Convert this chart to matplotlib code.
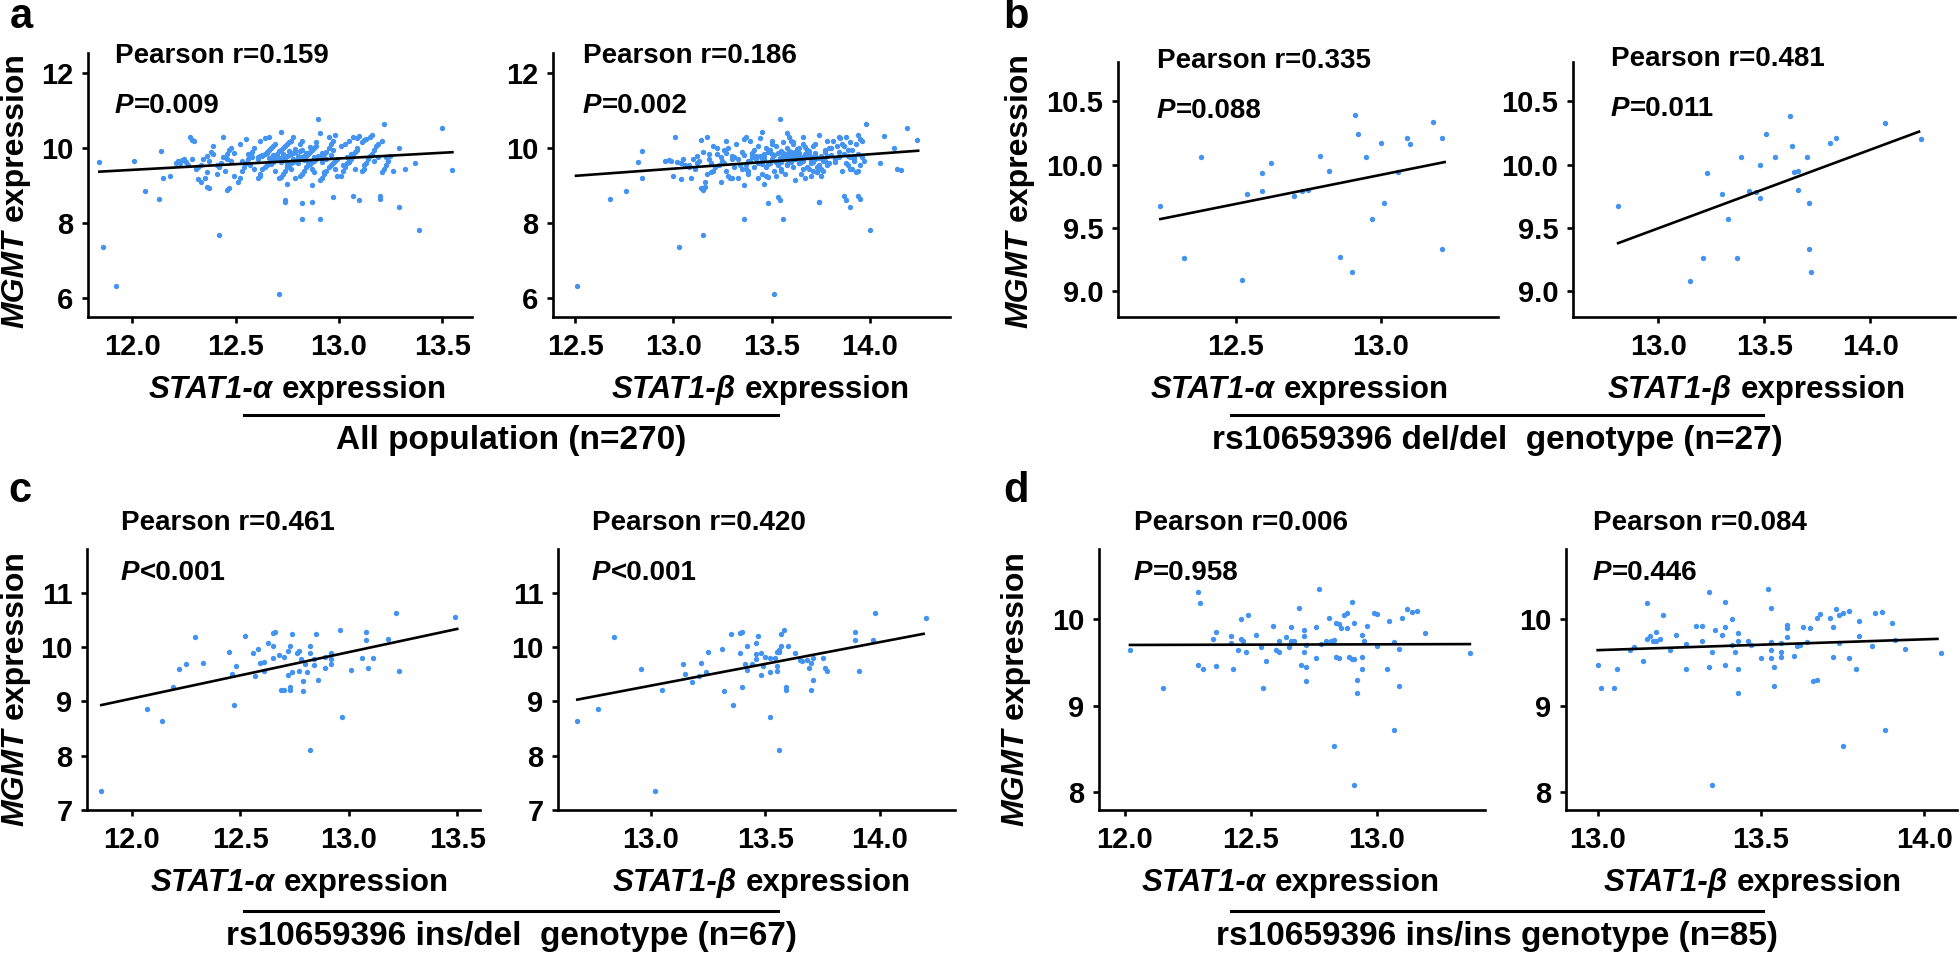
"""
MGMT vs STAT1-alpha / STAT1-beta expression, split by rs10659396 genotype.
Eight scatter panels with fitted lines, laid out in figure pixels.
"""

import matplotlib.pyplot as plt
from matplotlib.lines import Line2D

W, H, DPI = 1960, 956, 100
plt.rcParams['font.family'] = ['Liberation Sans', 'DejaVu Sans']
plt.rcParams['font.weight'] = 'bold'

DOT = '#4393f0'

# %%
# a: all population (n=270); the same MGMT values are used in both panels

a_alpha = [
    11.84, 11.86, 11.92, 12.01, 12.06, 12.13, 12.14, 12.15, 12.18, 12.42,
    12.71, 13.50, 13.55, 13.39, 13.29, 13.37, 13.32, 13.29, 13.22, 13.20,
    13.20, 13.10, 13.07, 12.97, 12.91, 12.87, 12.82, 12.82, 12.74, 12.74,
    12.75, 12.90, 12.72, 12.87, 12.79, 12.47, 12.46, 12.36, 12.37, 12.32,
    12.28, 12.29, 12.30, 12.24, 12.21, 13.10, 13.12,
    12.22, 12.25, 12.27, 12.26, 12.29, 12.23,
    12.31, 12.33, 12.34, 12.36, 12.38, 12.35, 12.33, 12.39, 12.37, 12.32, 12.39, 12.36,
    12.41, 12.42, 12.43, 12.44, 12.46, 12.47, 12.48, 12.45, 12.49, 12.44, 12.48, 12.41,
    12.46, 12.49,
    12.51, 12.52, 12.53, 12.54, 12.55, 12.56, 12.57, 12.58, 12.59, 12.52, 12.55, 12.57,
    12.53, 12.58, 12.59, 12.56,
    12.61, 12.62, 12.63, 12.64, 12.65, 12.66, 12.67, 12.68, 12.69, 12.61, 12.62, 12.63,
    12.64, 12.65, 12.66, 12.67, 12.68, 12.69, 12.62, 12.64, 12.66, 12.68, 12.61, 12.63,
    12.65, 12.67, 12.69, 12.62,
    12.71, 12.72, 12.73, 12.74, 12.75, 12.76, 12.77, 12.78, 12.79, 12.71, 12.72, 12.73,
    12.74, 12.75, 12.76, 12.77, 12.78, 12.79, 12.71, 12.72, 12.73, 12.74, 12.75, 12.76,
    12.77, 12.78, 12.79, 12.71, 12.73, 12.75, 12.77, 12.79,
    12.81, 12.82, 12.83, 12.84, 12.85, 12.86, 12.87, 12.88, 12.89, 12.81, 12.82, 12.83,
    12.84, 12.85, 12.86, 12.87, 12.88, 12.89, 12.81, 12.82, 12.83, 12.84, 12.85, 12.86,
    12.87, 12.88, 12.89, 12.81, 12.83, 12.85,
    12.91, 12.92, 12.93, 12.94, 12.95, 12.96, 12.97, 12.98, 12.99, 12.91, 12.92, 12.93,
    12.94, 12.95, 12.96, 12.97, 12.98, 12.91, 12.92, 12.94, 12.96, 12.98, 12.93, 12.95,
    12.97, 12.99,
    13.01, 13.02, 13.03, 13.04, 13.05, 13.06, 13.07, 13.08, 13.09, 13.01, 13.03, 13.05,
    13.07, 13.09, 13.02, 13.04, 13.06, 13.08, 13.09, 13.05,
    13.11, 13.12, 13.13, 13.14, 13.15, 13.16, 13.17, 13.18, 13.19, 13.11, 13.13, 13.15,
    13.17, 13.19, 13.12, 13.16,
    13.21, 13.22, 13.23, 13.24, 13.25, 13.21, 13.23, 13.26,
    12.70, 12.80, 12.78, 12.76, 12.84, 12.88, 12.72, 12.86, 12.68, 12.92, 12.74, 12.82,
    12.90, 12.66, 12.80,
]
a_beta = [
    12.82, 13.03, 12.51, 12.96, 12.76, 12.68, 12.84, 12.84, 13.00, 13.15,
    13.51, 14.19, 14.16, 14.00, 13.90, 14.05, 14.14, 14.12, 13.98, 13.94,
    13.95, 13.88, 13.87, 13.53, 13.56, 13.74, 13.36, 13.48, 13.74, 13.54,
    13.46, 13.54, 13.45, 13.36, 13.30, 13.14, 13.15, 13.16, 13.15, 13.04,
    13.01, 13.14, 13.27, 12.98, 13.04, 14.07, 14.24,
    12.99, 13.05, 13.08, 13.02, 13.10, 13.12,
    13.11, 13.06, 13.18, 13.12, 13.15, 13.09, 13.16, 13.20, 13.13, 13.08, 13.22, 13.19,
    13.17, 13.21, 13.19, 13.24, 13.18, 13.26, 13.22, 13.20, 13.28, 13.17, 13.25, 13.23,
    13.30, 13.27,
    13.24, 13.29, 13.27, 13.31, 13.26, 13.33, 13.30, 13.35, 13.28, 13.32, 13.36, 13.34,
    13.38, 13.31, 13.37, 13.40,
    13.33, 13.38, 13.35, 13.41, 13.37, 13.43, 13.39, 13.45, 13.42, 13.40, 13.44, 13.36,
    13.46, 13.48, 13.41, 13.47, 13.43, 13.50, 13.39, 13.44, 13.37, 13.49, 13.46, 13.42,
    13.40, 13.45, 13.38, 13.47,
    13.43, 13.48, 13.45, 13.51, 13.47, 13.53, 13.49, 13.55, 13.52, 13.50, 13.54, 13.46,
    13.56, 13.58, 13.51, 13.57, 13.53, 13.60, 13.55, 13.49, 13.58, 13.52, 13.61, 13.56,
    13.50, 13.59, 13.54, 13.57, 13.62, 13.48, 13.55, 13.63,
    13.52, 13.57, 13.55, 13.61, 13.58, 13.64, 13.60, 13.66, 13.62, 13.59, 13.65, 13.57,
    13.67, 13.69, 13.62, 13.68, 13.64, 13.71, 13.66, 13.60, 13.70, 13.63, 13.72, 13.58,
    13.66, 13.73, 13.61, 13.69, 13.74, 13.65,
    13.62, 13.67, 13.65, 13.71, 13.68, 13.74, 13.70, 13.76, 13.72, 13.69, 13.75, 13.67,
    13.77, 13.79, 13.72, 13.78, 13.74, 13.58, 13.71, 13.76, 13.80, 13.69, 13.73, 13.66,
    13.77, 13.75,
    13.70, 13.76, 13.73, 13.79, 13.77, 13.82, 13.78, 13.84, 13.80, 13.83, 13.86, 13.81,
    13.88, 13.85, 13.78, 13.84, 13.87, 13.75, 13.89, 13.82,
    13.86, 13.90, 13.88, 13.92, 13.89, 13.94, 13.91, 13.87, 13.93, 13.90, 13.95, 13.84,
    13.92, 13.96, 13.89, 13.94,
    13.93, 13.91, 13.95, 13.97, 13.92, 13.96, 13.90, 13.94,
    13.50, 13.60, 13.62, 13.59, 13.56, 13.70, 13.52, 13.67, 13.58, 13.64, 13.60, 13.68,
    13.72, 13.54, 13.64,
]
a_mgmt = [
    9.62, 7.35, 6.30, 9.65, 8.85, 8.64, 9.92, 9.20, 9.26, 7.67,
    6.09, 10.55, 9.41, 7.81, 8.42, 9.61, 9.43, 10.01, 10.64, 8.73,
    8.63, 8.62, 8.73, 8.70, 8.10, 8.55, 8.10, 8.54, 8.57, 8.62,
    9.03, 10.77, 10.44, 9.01, 9.21, 8.93, 8.88, 8.97, 8.93, 9.17,
    10.31, 10.22, 10.18, 9.68, 9.59, 10.33, 10.22,
    9.66, 9.70, 9.55, 9.62, 9.72, 9.60,
    9.45, 9.55, 9.70, 9.80, 9.90, 9.20, 9.10, 10.05, 9.65, 9.50, 9.85, 9.35,
    9.30, 9.50, 9.60, 9.75, 9.85, 9.95, 10.00, 9.40, 9.25, 10.30, 9.65, 9.55,
    9.70, 9.88,
    9.10, 9.20, 9.40, 9.50, 9.60, 9.70, 9.80, 9.90, 10.00, 10.10, 10.25, 9.55,
    9.65, 9.75, 9.45, 9.85,
    9.20, 9.30, 9.45, 9.50, 9.55, 9.60, 9.65, 9.70, 9.72, 9.75, 9.80, 9.82,
    9.85, 9.90, 9.95, 10.00, 10.05, 10.10, 10.20, 10.28, 10.30, 9.62, 9.70, 9.78,
    9.88, 9.58, 9.40, 9.25,
    9.20, 9.22, 9.30, 9.40, 9.50, 9.55, 9.60, 9.62, 9.65, 9.70, 9.72, 9.75,
    9.78, 9.80, 9.82, 9.85, 9.88, 9.90, 9.92, 9.95, 10.00, 10.05, 10.10, 10.15,
    10.20, 10.30, 9.68, 9.74, 9.84, 9.58, 9.45, 9.98,
    9.25, 9.30, 9.40, 9.50, 9.55, 9.60, 9.62, 9.65, 9.70, 9.72, 9.75, 9.80,
    9.82, 9.85, 9.90, 9.95, 10.00, 10.05, 10.10, 10.20, 9.68, 9.78, 9.88, 9.58,
    9.45, 9.35, 10.15, 9.92, 9.74, 9.64,
    9.15, 9.20, 9.30, 9.40, 9.50, 9.55, 9.60, 9.65, 9.70, 9.75, 9.80, 9.85,
    9.90, 10.00, 10.10, 10.20, 10.35, 10.40, 9.62, 9.72, 9.82, 9.45, 9.35, 10.30,
    9.95, 9.25,
    9.25, 9.40, 9.50, 9.60, 9.65, 9.70, 9.80, 9.90, 10.00, 10.05, 10.10, 10.20,
    10.30, 10.28, 9.55, 9.75, 9.85, 9.45, 9.95, 9.62,
    9.40, 9.45, 9.60, 9.70, 9.80, 9.85, 9.95, 10.05, 10.10, 10.15, 10.25, 10.30,
    9.65, 9.75, 9.55, 10.35,
    9.35, 9.45, 9.55, 9.65, 9.80, 10.20, 9.75, 9.40,
    9.85, 9.80, 9.70, 9.92, 9.86, 9.76, 9.64, 10.02, 9.82, 9.88, 9.68, 9.96,
    9.78, 9.74, 9.60,
]

# %%
# b: rs10659396 del/del (n=27)

b_alpha_x = [12.24, 12.32, 12.38, 12.52, 12.54, 12.59, 12.59, 12.62, 12.70, 12.73,
             12.75, 12.79, 12.82, 12.86, 12.90, 12.91, 12.92, 12.95, 12.97, 13.00,
             13.01, 13.06, 13.09, 13.10, 13.18, 13.21, 13.21]
b_alpha_y = [9.67, 9.26, 10.06, 9.09, 9.77, 9.93, 9.79, 10.01, 9.75, 9.79,
             9.80, 10.07, 9.95, 9.27, 9.15, 10.39, 10.24, 10.06, 9.57, 10.17,
             9.70, 9.94, 10.21, 10.16, 10.34, 10.21, 9.33]
b_beta_x = [12.81, 13.15, 13.21, 13.23, 13.30, 13.33, 13.37, 13.39, 13.43, 13.48,
            13.48, 13.51, 13.55, 13.62, 13.63, 13.64, 13.66, 13.66, 13.70, 13.71,
            13.71, 13.72, 13.81, 13.84, 14.07, 14.24, 13.46]
b_beta_y = [9.67, 9.08, 9.26, 9.93, 9.77, 9.57, 9.26, 10.06, 9.79, 10.00,
            9.74, 10.24, 10.06, 10.38, 10.15, 9.94, 9.95, 9.80, 10.06, 9.33,
            9.70, 9.15, 10.17, 10.21, 10.33, 10.20, 9.78]

# %%
# c: rs10659396 ins/del (n=67)

c_alpha_x = [11.86, 12.07, 12.14, 12.19, 12.22, 12.25, 12.29, 12.33, 12.45, 12.46,
             12.47, 12.48, 12.52, 12.56, 12.57, 12.58, 12.59, 12.61, 12.61, 12.63,
             12.65, 12.65, 12.65, 12.66, 12.68, 12.69, 12.70, 12.70, 12.72, 12.72,
             12.73, 12.73, 12.73, 12.74, 12.74, 12.76, 12.77, 12.77, 12.78, 12.79,
             12.79, 12.80, 12.81, 12.82, 12.82, 12.82, 12.84, 12.84, 12.85, 12.86,
             12.89, 12.89, 12.92, 12.92, 12.92, 12.96, 12.97, 13.01, 13.06, 13.08,
             13.08, 13.09, 13.11, 13.18, 13.22, 13.23, 13.49]
c_alpha_y = [7.35, 8.85, 8.64, 9.27, 9.60, 9.69, 10.18, 9.71, 9.90, 9.50,
             8.93, 9.65, 10.20, 9.88, 9.47, 9.97, 9.70, 9.72, 9.55, 10.08,
             10.26, 9.80, 10.02, 10.28, 9.85, 9.20, 9.81, 9.20, 9.49, 9.93,
             9.21, 9.26, 10.01, 10.24, 9.53, 9.89, 9.93, 9.56, 9.77, 9.38,
             9.18, 9.69, 9.53, 9.88, 10.02, 8.10, 9.66, 9.78, 10.23, 9.40,
             9.61, 9.82, 9.68, 9.88, 9.77, 10.31, 8.71, 9.58, 9.80, 10.28,
             10.12, 9.62, 9.80, 10.14, 10.62, 9.55, 10.55]
c_beta_x = [12.68, 12.77, 12.84, 12.96, 13.02, 13.05, 13.14, 13.15, 13.18, 13.21,
            13.22, 13.24, 13.25, 13.31, 13.32, 13.35, 13.36, 13.39, 13.39, 13.40,
            13.40, 13.41, 13.42, 13.42, 13.44, 13.46, 13.46, 13.46, 13.47, 13.48,
            13.48, 13.49, 13.52, 13.52, 13.52, 13.54, 13.55, 13.55, 13.55, 13.56,
            13.56, 13.57, 13.57, 13.58, 13.59, 13.59, 13.60, 13.63, 13.66, 13.68,
            13.69, 13.70, 13.70, 13.71, 13.71, 13.75, 13.76, 13.77, 13.89, 13.89,
            13.91, 13.97, 13.98, 14.20, 13.65, 13.50, 13.56]
c_beta_y = [8.64, 8.85, 10.18, 9.60, 7.35, 9.20, 9.69, 9.50, 9.36, 9.47,
            9.71, 9.53, 9.90, 9.97, 9.18, 10.24, 8.93, 9.88, 10.26, 10.28,
            9.26, 9.68, 10.01, 9.58, 9.69, 9.77, 10.08, 9.87, 10.20, 9.88,
            9.48, 9.65, 9.80, 8.71, 9.53, 9.80, 9.55, 9.64, 9.90, 9.95,
            8.10, 10.02, 10.23, 10.31, 9.20, 9.26, 10.01, 9.88, 9.74, 9.75,
            9.62, 9.20, 9.71, 9.39, 9.80, 9.80, 9.61, 9.55, 10.28, 10.13,
            9.55, 10.12, 10.62, 10.54, 9.75, 9.82, 9.91]

# %%
# d: rs10659396 ins/ins (n=85)

d_alpha_x = [12.02, 12.15, 12.29, 12.29, 12.30, 12.31, 12.35, 12.36, 12.36, 12.42,
             12.42, 12.43, 12.45, 12.46, 12.46, 12.47, 12.48, 12.49, 12.52, 12.54,
             12.55, 12.56, 12.59, 12.60, 12.61, 12.61, 12.64, 12.65, 12.66, 12.66,
             12.67, 12.69, 12.70, 12.71, 12.71, 12.71, 12.72, 12.72, 12.72, 12.76,
             12.76, 12.77, 12.78, 12.81, 12.82, 12.83, 12.83, 12.84, 12.85, 12.85,
             12.86, 12.87, 12.88, 12.88, 12.89, 12.90, 12.90, 12.91, 12.91, 12.91,
             12.92, 12.92, 12.94, 12.94, 12.95, 12.94, 12.96, 12.99, 13.00, 13.00,
             13.04, 13.05, 13.07, 13.07, 13.09, 13.09, 13.10, 13.12, 13.14, 13.16,
             13.19, 13.37, 12.80, 12.84, 12.66]
d_alpha_y = [9.64, 9.20, 10.31, 9.47, 10.18, 9.42, 9.77, 9.46, 9.85, 9.72,
             9.80, 9.42, 9.64, 10.00, 9.77, 9.74, 9.62, 10.04, 9.82, 9.68,
             9.20, 9.51, 9.92, 9.64, 9.74, 9.62, 9.79, 9.68, 9.91, 9.75,
             9.74, 10.13, 9.47, 9.80, 9.87, 9.62, 9.45, 9.28, 9.70, 9.55,
             9.91, 10.35, 9.71, 10.01, 9.74, 9.76, 8.54, 9.56, 9.94, 9.55,
             9.90, 10.04, 9.89, 10.07, 9.56, 9.54, 10.19, 9.95, 9.54, 8.09,
             9.29, 9.14, 9.42, 9.82, 9.74, 9.56, 9.92, 10.07, 9.69, 10.06,
             9.42, 9.98, 9.73, 8.72, 9.23, 9.65, 10.01, 10.12, 10.08, 10.09,
             9.84, 9.61, 9.74, 9.95, 9.72]
d_beta_x = [13.00, 13.01, 13.05, 13.06, 13.10, 13.11, 13.14, 13.15, 13.15, 13.16,
            13.17, 13.18, 13.18, 13.19, 13.20, 13.22, 13.24, 13.27, 13.27, 13.30,
            13.32, 13.32, 13.34, 13.34, 13.35, 13.35, 13.36, 13.38, 13.39, 13.39,
            13.39, 13.41, 13.41, 13.42, 13.43, 13.43, 13.43, 13.43, 13.46, 13.47,
            13.50, 13.52, 13.53, 13.53, 13.53, 13.53, 13.54, 13.54, 13.56, 13.56,
            13.58, 13.58, 13.58, 13.60, 13.61, 13.63, 13.64, 13.65, 13.66, 13.67,
            13.67, 13.68, 13.71, 13.72, 13.72, 13.73, 13.74, 13.74, 13.75, 13.75,
            13.77, 13.77, 13.79, 13.80, 13.80, 13.84, 13.85, 13.87, 13.88, 13.90,
            13.91, 13.94, 14.05, 13.56, 13.62]
d_beta_y = [9.47, 9.20, 9.20, 9.42, 9.64, 9.68, 9.51, 10.18, 9.77, 9.80,
            9.74, 9.85, 9.74, 9.77, 10.05, 9.64, 9.82, 9.71, 9.42, 9.92,
            9.75, 9.92, 10.31, 9.44, 9.62, 8.09, 9.87, 9.82, 9.91, 10.19,
            9.47, 10.00, 9.70, 9.62, 9.14, 9.42, 9.84, 9.74, 9.74, 9.70,
            9.55, 10.35, 9.64, 9.55, 9.73, 10.13, 9.45, 9.23, 9.62, 9.56,
            9.89, 9.93, 9.79, 9.57, 9.69, 9.91, 9.73, 9.89, 9.28, 9.29,
            10.01, 10.06, 10.01, 9.56, 9.91, 10.12, 10.04, 9.72, 10.07, 8.54,
            10.09, 9.55, 9.42, 9.80, 9.98, 9.69, 10.07, 10.08, 8.72, 9.95,
            9.76, 9.65, 9.61, 9.72, 9.70]

# fitted lines: (x0, x1), (y0, y1)
fits = {
    'a_alpha': ((11.84, 13.55), (9.37, 9.89)),
    'a_beta': ((12.505, 14.245), (9.26, 9.93)),
    'b_alpha': ((12.24, 13.22), (9.57, 10.02)),
    'b_beta': ((12.81, 14.23), (9.38, 10.26)),
    'c_alpha': ((11.86, 13.50), (8.93, 10.33)),
    'c_beta': ((12.68, 14.19), (9.03, 10.24)),
    'd_alpha': ((12.02, 13.37), (9.70, 9.71)),
    'd_beta': ((13.00, 14.04), (9.64, 9.77)),
}

pearson_r = ['0.159', '0.186', '0.335', '0.481', '0.461', '0.420', '0.006', '0.084']
p_values = ['=0.009', '=0.002', '=0.088', '=0.011', '<0.001', '<0.001', '=0.958', '=0.446']
group_titles = ['All population (n=270)', 'rs10659396 del/del  genotype (n=27)',
                'rs10659396 ins/del  genotype (n=67)', 'rs10659396 ins/ins genotype (n=85)']

# %%
# Layout (figure pixels)

fig = plt.figure(figsize=(W / DPI, H / DPI), dpi=DPI)
renderer = fig.canvas.get_renderer()


def fx(x):
    return x / W


def fy(y):
    return 1 - y / H


def mixed_text(x, y, parts, size, align='center', vertical=False, gap=0.0):
    """Lay out (text, italic) runs side by side, measured with the renderer."""
    items = []
    for s, italic in parts:
        t = fig.text(0, 0, s, fontsize=size, fontweight='bold',
                     fontstyle='italic' if italic else 'normal',
                     ha='left', va='center', rotation_mode='anchor')
        items.append((t, t.get_window_extent(renderer).width))
    gap_px = gap * size * DPI / 72
    total = sum(w for _, w in items) + gap_px * (len(items) - 1)
    pos = -total / 2 if align == 'center' else 0
    for t, w in items:
        if vertical:
            t.set_rotation(90)
            t.set_position((fx(x), (H - y + pos) / H))
        else:
            t.set_position((fx(x + pos), fy(y)))
        pos += w + gap_px


panels = [
    # box = (left, right, top, bottom) in px
    dict(box=(88, 472, 53, 317), x=a_alpha, y=a_mgmt, fit='a_alpha',
         xlim=(11.785, 13.645), ylim=(5.484, 12.543),
         xt=[12.0, 12.5, 13.0, 13.5], yt=[6, 8, 10, 12], yf='{:.0f}', txt=(115, 56)),
    dict(box=(553, 950, 53, 317), x=a_beta, y=a_mgmt, fit='a_beta',
         xlim=(12.388, 14.407), ylim=(5.484, 12.543),
         xt=[12.5, 13.0, 13.5, 14.0], yt=[6, 8, 10, 12], yf='{:.0f}', txt=(583, 56)),
    dict(box=(1118, 1498, 62, 317), x=b_alpha_x, y=b_alpha_y, fit='b_alpha',
         xlim=(12.094, 13.404), ylim=(8.797, 10.81),
         xt=[12.5, 13.0], yt=[9.0, 9.5, 10.0, 10.5], yf='{:.1f}', txt=(1157, 61)),
    dict(box=(1573, 1955, 62, 317), x=b_beta_x, y=b_beta_y, fit='b_beta',
         xlim=(12.597, 14.40), ylim=(8.797, 10.81),
         xt=[13.0, 13.5, 14.0], yt=[9.0, 9.5, 10.0, 10.5], yf='{:.1f}', txt=(1611, 59)),
    dict(box=(87, 480, 549, 810), x=c_alpha_x, y=c_alpha_y, fit='c_alpha',
         xlim=(11.794, 13.605), ylim=(7.0, 11.80),
         xt=[12.0, 12.5, 13.0, 13.5], yt=[7, 8, 9, 10, 11], yf='{:.0f}', txt=(121, 523)),
    dict(box=(558, 955, 549, 810), x=c_beta_x, y=c_beta_y, fit='c_beta',
         xlim=(12.596, 14.327), ylim=(7.0, 11.80),
         xt=[13.0, 13.5, 14.0], yt=[7, 8, 9, 10, 11], yf='{:.0f}', txt=(592, 523)),
    dict(box=(1099, 1485, 549, 810), x=d_alpha_x, y=d_alpha_y, fit='d_alpha',
         xlim=(11.897, 13.43), ylim=(7.796, 10.807),
         xt=[12.0, 12.5, 13.0], yt=[8, 9, 10], yf='{:.0f}', txt=(1134, 523)),
    dict(box=(1566, 1957, 549, 810), x=d_beta_x, y=d_beta_y, fit='d_beta',
         xlim=(12.903, 14.10), ylim=(7.796, 10.807),
         xt=[13.0, 13.5, 14.0], yt=[8, 9, 10], yf='{:.0f}', txt=(1593, 523)),
]

for i, p in enumerate(panels):
    left, right, top, bottom = p['box']
    ax = fig.add_axes([fx(left), fy(bottom), (right - left) / W, (bottom - top) / H])
    ax.scatter(p['x'], p['y'], s=15, color=DOT, linewidths=0, zorder=2, clip_on=False)
    fx_, fy_ = fits[p['fit']]
    ax.plot(fx_, fy_, color='black', lw=1.9, zorder=3)
    ax.set_xlim(*p['xlim'])
    ax.set_ylim(*p['ylim'])
    ax.set_xticks(p['xt'])
    ax.set_xticklabels([f'{v:.1f}' for v in p['xt']])
    ax.set_yticks(p['yt'])
    ax.set_yticklabels([p['yf'].format(v) for v in p['yt']])
    for side in ('top', 'right'):
        ax.spines[side].set_visible(False)
    for side in ('left', 'bottom'):
        ax.spines[side].set_linewidth(1.9)
    ax.tick_params(width=1.9, length=4.5, labelsize=21, pad=6)
    ax.tick_params(axis='x', pad=7)

    tx, ty = p['txt']
    fig.text(fx(tx), fy(ty), f'Pearson r={pearson_r[i]}', fontsize=20,
             fontweight='bold', ha='left', va='center')
    mixed_text(tx, ty + 50, [('P', True), (p_values[i], False)], 20, align='left')

# x labels under every panel
xlabel_pos = [(298, 390), (761, 390), (1300, 390), (1757, 390),
              (300, 883), (762, 883), (1291, 883), (1753, 883)]
for i, (x, y) in enumerate(xlabel_pos):
    greek = 'STAT1-α' if i % 2 == 0 else 'STAT1-β'
    mixed_text(x, y, [(greek, True), ('expression', False)], 22.5, gap=0.278)

# y labels on the left panel of each group
for x, y in [(15, 190), (1019, 190), (15, 688), (1015, 688)]:
    mixed_text(x, y, [('MGMT', True), ('expression', False)], 23, vertical=True, gap=0.278)

# group bars and titles
for (x0, x1, yl, yt), title in zip(
        [(244, 778, 415, 440), (1231, 1763, 415, 440),
         (244, 778, 911, 936), (1231, 1763, 911, 936)], group_titles):
    fig.add_artist(Line2D([fx(x0), fx(x1)], [fy(yl), fy(yl)], color='black', lw=2.2))
    fig.text(fx((x0 + x1) / 2), fy(yt), title, fontsize=24, fontweight='bold',
             ha='center', va='center')

# panel letters
for letter, (x, y) in zip('abcd', [(21, 17), (1016, 17), (20, 491), (1016, 491)]):
    fig.text(fx(x), fy(y), letter, fontsize=30, fontweight='bold', ha='center', va='center')

fig.savefig('out.png', dpi=DPI)
